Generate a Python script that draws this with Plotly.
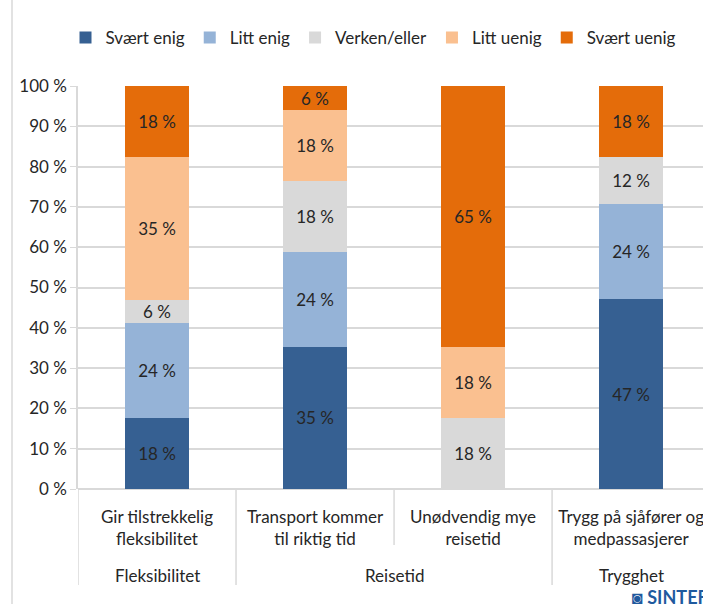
import plotly.graph_objects as go

# inner labels, outer groups and values (percent of respondents)
questions = ["Gir tilstrekkelig<br>fleksibilitet", "Transport kommer<br>til riktig tid",
             "Unødvendig mye<br>reisetid", "Trygg på sjåfører og<br>medpassasjerer"]
groups = ["Fleksibilitet", "Reisetid", "Reisetid", "Trygghet"]

svaert_enig = [17.6, 35.3, 0.0, 47.1]
litt_enig = [23.5, 23.5, 0.0, 23.5]
verken_eller = [5.9, 17.6, 17.6, 11.8]
litt_uenig = [35.3, 17.6, 17.6, 0.0]
svaert_uenig = [17.6, 5.9, 64.7, 17.6]

series = [
    ("Svært enig", svaert_enig, "#366092"),
    ("Litt enig", litt_enig, "#95B3D7"),
    ("Verken/eller", verken_eller, "#D9D9D9"),
    ("Litt uenig", litt_uenig, "#FAC090"),
    ("Svært uenig", svaert_uenig, "#E46C0A"),
]

FONT = "Lato"
GRID = "#D9D9D9"
TXT = "#262626"
xpos = list(range(len(questions)))

fig = go.Figure()
for name, vals, color in series:
    fig.add_trace(go.Bar(
        x=xpos, y=vals, name=name,
        marker=dict(color=color, line=dict(width=0)),
        width=0.4,
        text=[f"{round(v)} %" if v > 0 else "" for v in vals],
        textposition="inside",
        insidetextanchor="middle",
        textangle=0,
        textfont=dict(family=FONT, size=17, color=TXT),
        hoverinfo="skip",
    ))

# plot area: 78..(off-screen), 86..489 px
L, T, H = 78, 86, 403
W = 703 - L
def px_x(p):
    return (p - L) / W
def px_y(p):
    return (T + H - p) / H

shapes = []
# dividers between categories / groups
for xv, bottom in [(-0.5, 585), (0.5, 585), (1.5, 545), (2.5, 585)]:
    shapes.append(dict(type="line", xref="x", yref="paper", x0=xv, x1=xv,
                       y0=0, y1=px_y(bottom), line=dict(color=GRID, width=1.5)))
# chart frame on the left
shapes.append(dict(type="line", xref="paper", yref="paper", x0=px_x(12), x1=px_x(12),
                   y0=px_y(604), y1=px_y(0), line=dict(color=GRID, width=1.5)))

annotations = []
group_pos = {}
for i, g in enumerate(groups):
    group_pos.setdefault(g, []).append(i)
for g, idx in group_pos.items():
    annotations.append(dict(x=sum(idx) / len(idx), y=px_y(575), xref="x", yref="paper",
                            text=g, showarrow=False, yanchor="middle",
                            font=dict(family=FONT, size=17, color=TXT)))
annotations.append(dict(x=px_x(630), y=px_y(597), xref="paper", yref="paper",
                        text="<b>◙ SINTEF</b>", showarrow=False, xanchor="left",
                        yanchor="middle", font=dict(family=FONT, size=18, color="#1F5A9E")))

fig.update_layout(
    width=703, height=604,
    barmode="stack",
    uniformtext=dict(minsize=17, mode="show"),
    plot_bgcolor="white", paper_bgcolor="white",
    margin=dict(l=L, r=0, t=T, b=604 - T - H, autoexpand=False),
    font=dict(family=FONT, size=17, color=TXT),
    legend=dict(orientation="h", x=px_x(373), xanchor="center", y=px_y(38),
                yanchor="middle", font=dict(family=FONT, size=17, color=TXT),
                traceorder="normal", itemwidth=30),
    xaxis=dict(tickmode="array", tickvals=xpos, ticktext=questions,
               range=[-0.5, 3.455], showgrid=False, zeroline=False,
               ticks="", showline=False, ticklabeloverflow="allow",
               ticklabelstandoff=16,
               tickfont=dict(family=FONT, size=17)),
    yaxis=dict(range=[0, 100], dtick=10, ticksuffix=" %", showgrid=True,
               gridcolor=GRID, gridwidth=1.5, zeroline=True, zerolinecolor=GRID,
               zerolinewidth=1.5, showline=True, linecolor=GRID, linewidth=1.5,
               ticks="outside", ticklen=6, tickcolor=GRID,
               tickfont=dict(family=FONT, size=17)),
    shapes=shapes,
    annotations=annotations,
)

fig.write_html("out.html", config={"displayModeBar": False},
               post_script="document.body.style.margin='0';")
